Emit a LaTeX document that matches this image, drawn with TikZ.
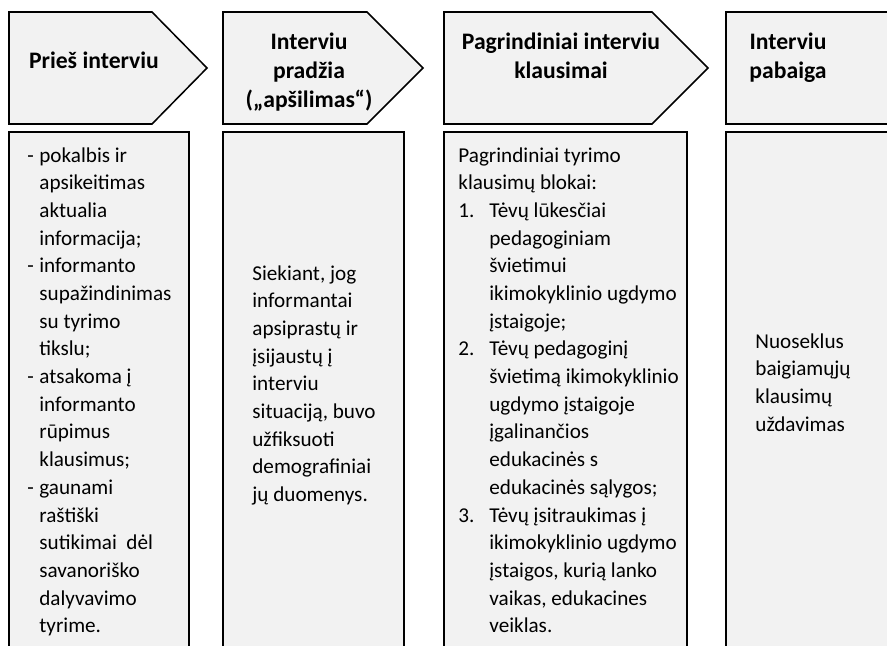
\documentclass[tikz,border=0pt]{standalone}
\usepackage{fontspec}
\setmainfont{Carlito}
\newdimen\px \px=0.52pt
\definecolor{boxfill}{HTML}{F2F2F2}
\tikzset{
  stage/.style={draw=black, line width=0.8pt, fill=boxfill, line join=miter},
  panel/.style={draw=black, line width=1.15pt, fill=boxfill},
  head/.style={inner sep=0pt, anchor=base},
  body/.style={inner sep=0pt, anchor=base west},
}
\newcommand{\headtext}[1]{\vtop{\hsize=260\px\fontsize{12.3pt}{15.3pt}\selectfont\bfseries\parindent=0pt\centering #1\par}}
\newcommand{\bodytext}[1]{\vtop{\hsize=260\px\fontsize{11pt}{14.4pt}\selectfont\parindent=0pt\raggedright #1\par}}
\begin{document}
\begin{tikzpicture}[x=0.52pt,y=-0.52pt]
\path[use as bounding box] (0,0) rectangle (887,645);
\clip (0,0) rectangle (887,645);
% stage headers
\path[stage] (9,12) -- (152,12) -- (207,68) -- (152,124) -- (9,124) -- cycle;
\path[stage] (223,12) -- (367,12) -- (423,68) -- (367,124) -- (223,124) -- cycle;
\path[stage] (444,12) -- (652,12) -- (708,68) -- (652,124) -- (444,124) -- cycle;
\path[stage] (726,12) -- (900,12) -- (900,124) -- (726,124) -- cycle;
% panels
\path[panel] (9,132) rectangle (189,670);
\path[panel] (223,132) rectangle (404,670);
\path[panel] (444,132) rectangle (687,670);
\path[panel] (726,132) rectangle (900,670);
% header texts
\node[head] (h1) at (94,68) {\headtext{Prieš interviu}};
\node[head] (h2) at (309,49) {\headtext{Interviu\\pradžia\\(„apšilimas“)}};
\node[head] (h3) at (561,49) {\headtext{Pagrindiniai interviu\\klausimai}};
\node[head] (h4) at (788,49) {\headtext{Interviu\\pabaiga}};
% body texts
\node[body] (b1) at (27,162) {\bodytext{%
\hangindent=12\px\hangafter=1\makebox[12\px][l]{-}pokalbis ir\newline apsikeitimas\newline aktualia\newline informacija;\par
\hangindent=12\px\hangafter=1\makebox[12\px][l]{-}informanto\newline supažindinimas\newline su tyrimo\newline tikslu;\par
\hangindent=12\px\hangafter=1\makebox[12\px][l]{-}atsakoma į\newline informanto\newline rūpimus\newline klausimus;\par
\hangindent=12\px\hangafter=1\makebox[12\px][l]{-}gaunami\newline raštiški\newline sutikimai\ \ dėl\newline savanoriško\newline dalyvavimo\newline tyrime.}};
\node[body] (b2) at (252,280) {\bodytext{Siekiant, jog\newline informantai\newline apsiprastų ir\newline įsijaustų į\newline interviu\newline situaciją, buvo\newline užfiksuoti\newline demografiniai\newline jų duomenys.}};
\node[body] (b3) at (458,162) {\bodytext{Pagrindiniai tyrimo\newline klausimų blokai:\par
\hangindent=31\px\hangafter=1\makebox[31\px][l]{1.}Tėvų lūkesčiai\newline pedagoginiam\newline švietimui\newline ikimokyklinio ugdymo\newline įstaigoje;\par
\hangindent=31\px\hangafter=1\makebox[31\px][l]{2.}Tėvų pedagoginį\newline švietimą ikimokyklinio\newline ugdymo įstaigoje\newline įgalinančios\newline edukacinės s\newline edukacinės sąlygos;\par
\hangindent=31\px\hangafter=1\makebox[31\px][l]{3.}Tėvų įsitraukimas į\newline ikimokyklinio ugdymo\newline įstaigos, kurią lanko\newline vaikas, edukacines\newline veiklas.}};
\node[body] (b4) at (755,348) {\bodytext{Nuoseklus\newline baigiamųjų\newline klausimų\newline uždavimas}};
\end{tikzpicture}
\end{document}
